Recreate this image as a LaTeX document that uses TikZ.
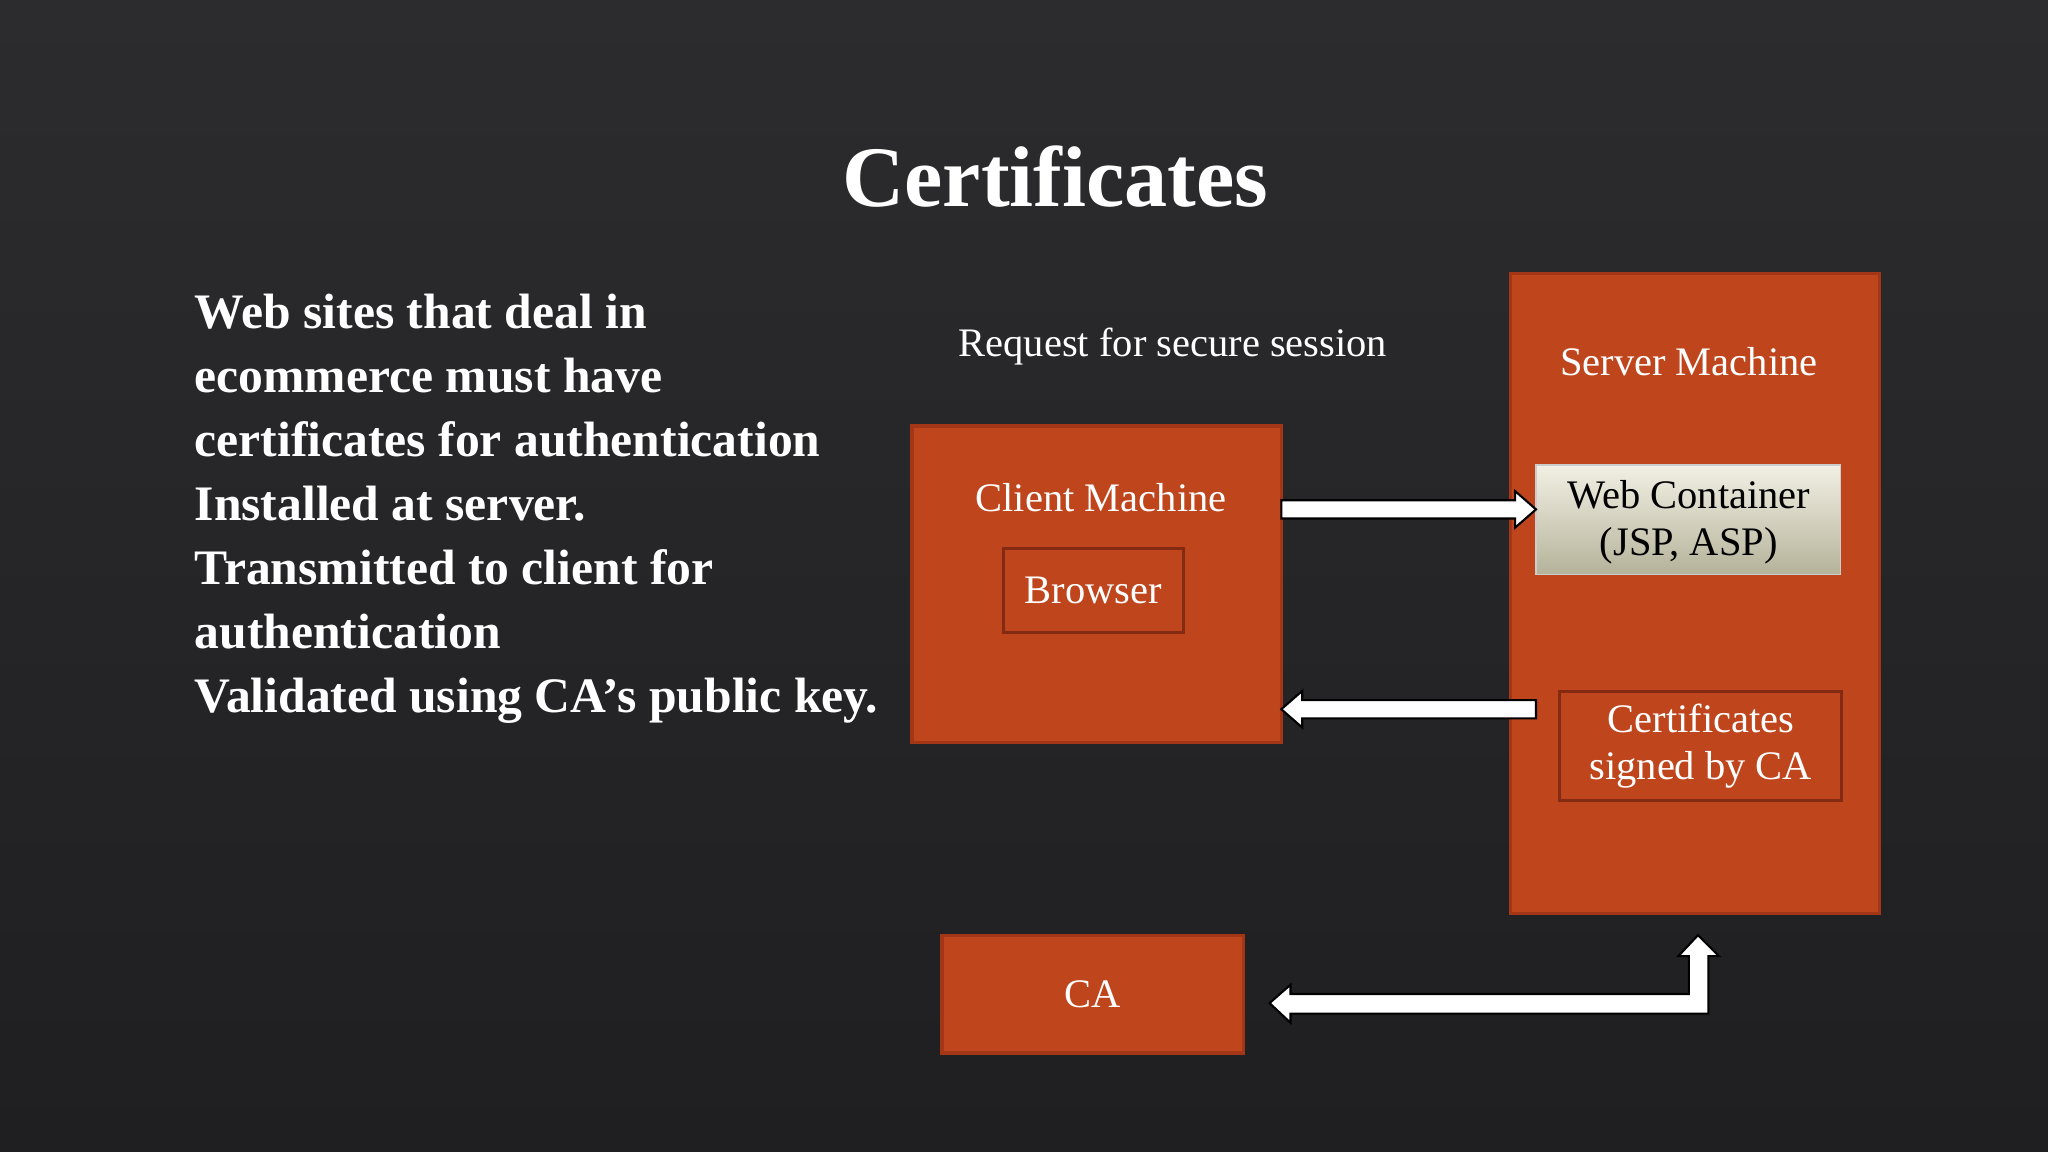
\documentclass[tikz,border=0pt]{standalone}
\usepackage{fontspec}
\setmainfont{Liberation Serif}
\usetikzlibrary{calc}
\definecolor{bg}{HTML}{1F1F21}
\definecolor{bgl}{HTML}{2C2C2E}
\definecolor{box}{HTML}{BF451D}
\definecolor{boxb}{HTML}{A33617}
\definecolor{wtop}{HTML}{F2F0E4}
\definecolor{wbot}{HTML}{B5B29A}
\tikzset{
 obox/.style={draw=boxb,line width=1.2pt,fill=box,anchor=north west,inner sep=0},
 lbl/.style={text=white,font=\fontsize{15.5}{18}\selectfont,align=center},
 fat/.style={fill=white,draw=black,line width=0.8pt}
}
\begin{document}
\begin{tikzpicture}[x=0.5pt,y=-0.5pt]
\useasboundingbox (0,0) rectangle (1568,882);
\shade[top color=bgl,bottom color=bg] (0,0) rectangle (1568,882);
\node[text=white,font=\bfseries\fontsize{33}{40}\selectfont] (title) at (808,135) {Certificates};
\node[text=white,font=\bfseries\fontsize{19}{24.5}\selectfont,align=left,anchor=north west] (txt) at (142,218)
 {Web sites that deal in\\ecommerce must have\\certificates for authentication\\Installed at server.\\Transmitted to client for\\authentication\\Validated using CA’s public key.};
\node[lbl] (req) at (898,265) {Request for secure session};
% client
\node[obox,minimum width=141.5pt,minimum height=121pt] (client) at (697,325) {};
\node[lbl] (cl) at (843,381) {Client Machine};
\node[obox,draw=boxb!80!black,minimum width=69pt,minimum height=32pt] (browser) at (767,419) {};
\node[lbl] at (browser.center) {Browser};
% server
\node[obox,minimum width=141.5pt,minimum height=245pt] (server) at (1155,208) {};
\node[lbl] (sl) at (1293,277) {Server Machine};
\shade[top color=wtop,bottom color=wbot,draw=white!80!black] (1176,356) rectangle (1409,440);
\node[lbl,text=black,inner sep=0] (web) at (1293,400) {Web Container\\(JSP, ASP)};
\node[obox,draw=boxb!80!black,minimum width=108pt,minimum height=42pt] (cert) at (1193,528) {};
\node[lbl] at (cert.center) {Certificates\\signed by CA};
% CA
\node[obox,minimum width=115.5pt,minimum height=45pt] (ca) at (720,715) {};
\node[lbl] at (ca.center) {CA};
% arrows
\draw[fat] (981,383) -- (1160,383) -- (1160,376) -- (1176,390) -- (1160,404) -- (1160,397) -- (981,397) -- cycle;
\draw[fat] (1176,536) -- (997,536) -- (997,529) -- (981,543) -- (997,557) -- (997,550) -- (1176,550) -- cycle;
\draw[fat] (972,768) -- (988,754) -- (988,761) -- (1293,761) -- (1293,732) -- (1285,732) -- (1300,716) -- (1316,732) -- (1308,732) -- (1308,776) -- (988,776) -- (988,783) -- cycle;
\end{tikzpicture}
\end{document}
